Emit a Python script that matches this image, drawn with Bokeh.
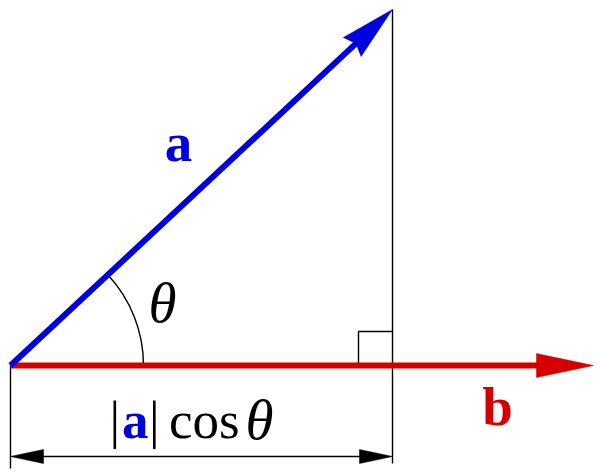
import math
from bokeh.plotting import figure
from bokeh.models import Range1d
from bokeh.core.properties import value
from bokeh.embed import file_html
from bokeh.resources import INLINE

# vectors (drawing units, origin at the common tail)
origin = [0, 0]
vec_a = [382, 356]
vec_b = [583, 0]
proj_len = vec_a[0]          # |a| cos(theta)
dim_y = -91                  # height of the dimension line
ext_bottom = -103            # lower end of the left extension line
right_bottom = -98           # lower end of the right (projection) line
arc_r = 133
box = 34

label_a = ["a"]
label_b = ["b"]
label_theta = ["\u03b8"]
dim_parts = ["|", "a", "|", "cos", "\u03b8"]
dim_x = [99, 111.5, 138.5, 158.5, 235]

BLUE = "#0000dd"
RED = "#d40000"
SERIF = value("Liberation Serif")
BASE_FIX = 21   # svg baseline correction


def head(tip, direction, length, half_w, notch=0.0):
    dx, dy = direction
    n = math.hypot(dx, dy)
    ux, uy = dx / n, dy / n
    px, py = -uy, ux
    bx, by = tip[0] - ux * length, tip[1] - uy * length
    xs = [tip[0], bx + px * half_w, tip[0] - ux * (length - notch), bx - px * half_w]
    ys = [tip[1], by + py * half_w, tip[1] - uy * (length - notch), by - py * half_w]
    return xs, ys


p = figure(width=600, height=476, x_range=Range1d(-10, 590), y_range=Range1d(-111, 365),
           output_backend="svg", toolbar_location=None,
           x_axis_location=None, y_axis_location=None, min_border=0)
p.grid.visible = False
p.outline_line_color = None
p.background_fill_color = "white"
p.border_fill_color = "white"

# thin construction lines
p.line([origin[0], origin[0]], [origin[1], ext_bottom], line_color="black", line_width=1.4)
p.line([proj_len, proj_len], [vec_a[1], right_bottom], line_color="black", line_width=1.4)
p.line([proj_len - box, proj_len - box, proj_len], [0, box, box], line_color="black", line_width=1.4)
theta = math.atan2(vec_a[1], vec_a[0])
p.arc(x=[origin[0]], y=[origin[1]], radius=arc_r, start_angle=0, end_angle=theta,
      line_color="black", line_width=1.4)

# dimension line with arrows at both ends
p.line([origin[0] + 20, proj_len - 20], [dim_y, dim_y], line_color="black", line_width=1.4)
xs, ys = head([origin[0], dim_y], [-1, 0], 33, 7)
p.patch(xs, ys, fill_color="black", line_color="black", line_width=0.5)
xs, ys = head([proj_len, dim_y], [1, 0], 33, 7)
p.patch(xs, ys, fill_color="black", line_color="black", line_width=0.5)

# vector b (red)
b_len = math.hypot(*vec_b)
b_back = [vec_b[0] - 50 * vec_b[0] / b_len, vec_b[1]]
p.line([origin[0], b_back[0]], [origin[1], b_back[1]], line_color=RED, line_width=6)
xs, ys = head(vec_b, vec_b, 57, 12)
p.patch(xs, ys, fill_color=RED, line_color=RED, line_width=0.5)

# vector a (blue)
a_len = math.hypot(*vec_a)
a_back = [vec_a[0] * (1 - 45 / a_len), vec_a[1] * (1 - 45 / a_len)]
p.line([origin[0], a_back[0]], [origin[1], a_back[1]], line_color=BLUE, line_width=6)
xs, ys = head(vec_a, vec_a, 55, 13, notch=5)
p.patch(xs, ys, fill_color=BLUE, line_color=BLUE, line_width=0.5)

# labels
p.text(x=[168], y=[202 + BASE_FIX], text=label_a, text_font=SERIF, text_font_style="bold",
       text_font_size="55px", text_color=BLUE, text_align="center", text_baseline="alphabetic")
p.text(x=[487], y=[-62 + BASE_FIX], text=label_b, text_font=SERIF, text_font_style="bold",
       text_font_size="55px", text_color=RED, text_align="center", text_baseline="alphabetic")
p.text(x=[152], y=[42 + BASE_FIX], text=label_theta, text_font=SERIF, text_font_style="italic",
       text_font_size="57px", text_color="black", text_align="center", text_baseline="alphabetic")

styles = ["normal", "bold", "normal", "normal", "italic"]
colors = ["black", BLUE, "black", "black", "black"]
sizes = ["53px", "53px", "53px", "53px", "57px"]
for t, x, st, c, s in zip(dim_parts, dim_x, styles, colors, sizes):
    p.text(x=[x], y=[-75 + BASE_FIX], text=[t], text_font=SERIF, text_font_style=st,
           text_font_size=s, text_color=c, text_align="left", text_baseline="alphabetic")

open("out.html", "w").write(file_html(p, INLINE))
